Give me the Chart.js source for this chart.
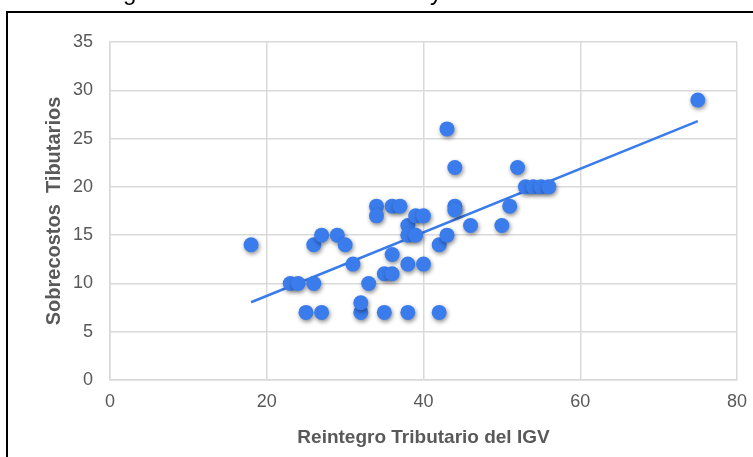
<!DOCTYPE html>
<html>
<head>
<meta charset="utf-8">
<script src="https://cdn.jsdelivr.net/npm/chart.js@4/dist/chart.umd.min.js"></script>
<style>
  html, body { margin: 0; padding: 0; background: #fff; overflow: hidden; width: 753px; height: 457px; }
  #wrap { position: relative; width: 753px; height: 457px; }
  canvas { position: absolute; left: 0; top: 0; }
  #frame { position: absolute; left: 6px; top: 11px; width: 800px; height: 500px; border: 2px solid #000; pointer-events: none; }
  .cut { position: absolute; top: -20px; font: 24px/24px "Liberation Sans", Arial, sans-serif; color: #000; }
</style>
</head>
<body>
<div id="wrap">
  <canvas id="c" width="753" height="457"></canvas>
  <div id="frame"></div>
  <div class="cut" style="left:123px">g</div>
  <div class="cut" style="left:430px">y</div>
</div>
<script>
// Reintegro Tributario del IGV (x) vs Sobrecostos Tributarios (y)
const reintegroIGV = [18, 23, 24, 26, 25, 27, 26, 27, 29, 30, 31, 32, 32, 33, 34, 34, 35, 36, 35, 36, 36, 37, 38, 38, 39, 39, 40, 38, 40, 38, 42, 42, 43, 43, 44, 44, 44, 46, 50, 51, 52, 53, 54, 55, 56, 75];
const sobrecostos  = [14, 10, 10, 10, 7, 7, 14, 15, 15, 14, 12, 7, 8, 10, 18, 17, 11, 11, 7, 13, 18, 18, 16, 15, 15, 17, 17, 12, 12, 7, 7, 14, 15, 26, 22, 18, 17.6, 16, 16, 18, 22, 20, 20, 20, 20, 29];
// Linear trend line endpoints
const trendX = [18, 75];
const trendY = [8.05, 26.8];
const xTickValues = [0, 20, 40, 60, 80];
const yTickValues = [0, 5, 10, 15, 20, 25, 30, 35];

const points = reintegroIGV.map((x, i) => ({ x: x, y: sobrecostos[i] }));
const trend = trendX.map((x, i) => ({ x: x, y: trendY[i] }));

const blue = '#3A7CEC';
const gridColor = '#D9D9D9';
const tickColor = '#595959';
const fam = '"Liberation Sans", Arial, sans-serif';

const shadowPlugin = {
  id: 'markerShadow',
  beforeDatasetDraw(chart, args) {
    if (args.index === 0) {
      const ctx = chart.ctx;
      ctx.save();
      ctx.shadowColor = 'rgba(0,0,0,0.45)';
      ctx.shadowBlur = 4;
      ctx.shadowOffsetX = 1;
      ctx.shadowOffsetY = 2;
    }
  },
  afterDatasetDraw(chart, args) {
    if (args.index === 0) chart.ctx.restore();
  }
};

new Chart(document.getElementById('c'), {
  type: 'scatter',
  data: {
    datasets: [
      {
        label: 'Datos',
        data: points,
        backgroundColor: blue,
        borderColor: blue,
        borderWidth: 0,
        pointRadius: 7.5,
        pointHoverRadius: 7.5,
        order: 0
      },
      {
        type: 'line',
        label: 'Tendencia',
        data: trend,
        borderColor: blue,
        borderWidth: 2.5,
        pointRadius: 0,
        fill: false,
        order: 1
      }
    ]
  },
  options: {
    responsive: false,
    animation: false,
    devicePixelRatio: 1,
    layout: { padding: { left: 38, right: 16, top: 42, bottom: 4 } },
    plugins: { legend: { display: false }, tooltip: { enabled: false } },
    scales: {
      x: {
        type: 'linear',
        min: 0, max: 80,
        afterBuildTicks: s => { s.ticks = xTickValues.map(v => ({ value: v })); },
        afterFit: s => { s.height = 73; s.paddingLeft = 0; s.paddingRight = 0; },
        grid: { color: gridColor, lineWidth: 1.5, drawTicks: false },
        border: { color: gridColor, width: 1.5 },
        ticks: { color: tickColor, padding: 11, font: { family: fam, size: 18 } },
        title: { display: true, text: 'Reintegro Tributario del IGV', color: tickColor, padding: { top: 4, bottom: 4 },
                 font: { family: fam, size: 19, weight: 'bold' } }
      },
      y: {
        type: 'linear',
        min: 0, max: 35,
        afterBuildTicks: s => { s.ticks = yTickValues.map(v => ({ value: v })); },
        afterFit: s => { s.width = 72; s.paddingTop = 0; s.paddingBottom = 0; },
        grid: { color: gridColor, lineWidth: 1.5, drawTicks: false },
        border: { color: gridColor, width: 1.5 },
        ticks: { color: tickColor, padding: 17, font: { family: fam, size: 18 } },
        title: { display: true, text: 'Sobrecostos  Tibutarios', color: tickColor, padding: { top: 4, bottom: 4 },
                 font: { family: fam, size: 20, weight: 'bold' } }
      }
    }
  },
  plugins: [shadowPlugin]
});
</script>
</body>
</html>
